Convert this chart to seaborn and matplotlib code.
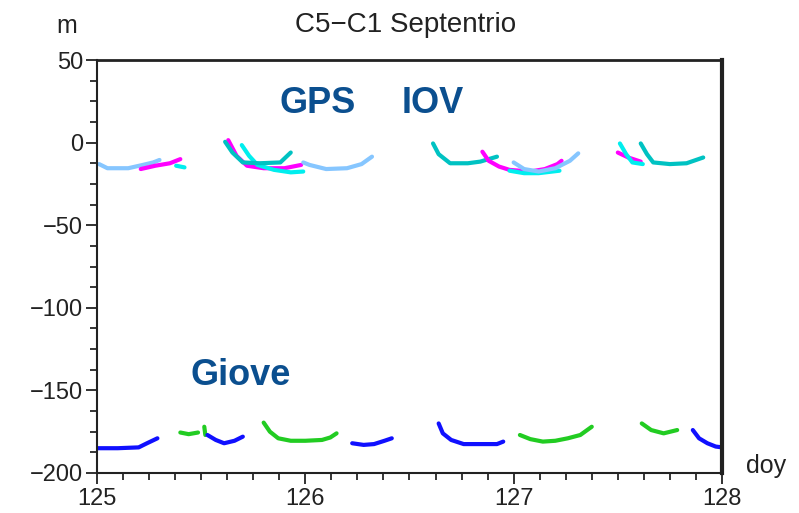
import matplotlib
matplotlib.use("Agg")
import matplotlib.pyplot as plt
import seaborn as sns
from matplotlib.ticker import MultipleLocator

# GPS / IOV arcs (doy, metres)
lb1_x = [125.01, 125.05, 125.15, 125.22, 125.27, 125.30]
lb1_y = [-13, -15.5, -15.5, -13.5, -12, -10.5]
mg1_x = [125.21, 125.28, 125.35, 125.40]
mg1_y = [-16, -14, -12.5, -10]
cy1_x = [125.38, 125.42]
cy1_y = [-14, -15]

tl2_x = [125.615, 125.65, 125.70, 125.78, 125.88, 125.93]
tl2_y = [0.5, -6, -12, -12.5, -12, -6]
mg2_x = [125.63, 125.67, 125.72, 125.80, 125.90, 125.98]
mg2_y = [1.5, -8, -14, -15.5, -15.5, -13.5]
cy2_x = [125.695, 125.73, 125.77, 125.85, 125.93, 125.99]
cy2_y = [-1.5, -8, -13.5, -16.5, -18, -17.5]
lb2_x = [125.99, 126.02, 126.10, 126.20, 126.27, 126.32]
lb2_y = [-12, -13.5, -16, -15.5, -13, -8.5]

tl3_x = [126.613, 126.64, 126.695, 126.78, 126.84, 126.92]
tl3_y = [-0.5, -7, -12.5, -12.5, -11.5, -8.5]
mg3_x = [126.85, 126.88, 126.93, 126.98, 127.08, 127.15, 127.21, 127.23]
mg3_y = [-5.5, -11, -14.5, -16.5, -17.5, -16, -13, -11]
cy3_x = [126.98, 127.05, 127.12, 127.22]
cy3_y = [-17, -18.5, -18.5, -17]
lb3_x = [127.00, 127.05, 127.12, 127.20, 127.27, 127.31]
lb3_y = [-12, -16, -17.5, -15.5, -11, -6.5]

mg4_x = [127.50, 127.55, 127.61]
mg4_y = [-6, -9, -11.5]
cy4_x = [127.51, 127.54, 127.57, 127.62]
cy4_y = [-0.5, -7, -12, -13]
tl4_x = [127.61, 127.64, 127.67, 127.75, 127.83, 127.91]
tl4_y = [-0.5, -7, -12, -13, -12.5, -9]

# Giove arcs
b1_x = [125.0, 125.10, 125.20, 125.24, 125.29]
b1_y = [-185, -185, -184.5, -182, -179]
g1_x = [125.40, 125.44, 125.485]
g1_y = [-175.5, -176.5, -175.5]
g1b_x = [125.515, 125.52]
g1b_y = [-172, -177]
b2_x = [125.53, 125.57, 125.61, 125.66, 125.70]
b2_y = [-177, -180, -182, -180.5, -178]
g2_x = [125.80, 125.83, 125.87, 125.93, 126.00, 126.08, 126.12, 126.15]
g2_y = [-169.5, -175, -179, -180.5, -180.5, -180, -178.5, -176]
b3_x = [126.225, 126.28, 126.33, 126.38, 126.415]
b3_y = [-182, -183, -182.5, -180.5, -179]
b4_x = [126.64, 126.66, 126.70, 126.76, 126.85, 126.92, 126.95]
b4_y = [-170, -176, -180, -182.5, -182.5, -182.5, -181]
g3_x = [127.03, 127.08, 127.14, 127.20, 127.26, 127.32, 127.375]
g3_y = [-177, -179.5, -181, -180.5, -179, -177, -172]
g4_x = [127.615, 127.66, 127.72, 127.785]
g4_y = [-170, -174, -176, -174]
b5_x = [127.86, 127.89, 127.93, 127.97, 128.0]
b5_y = [-174, -179, -182, -184, -184.5]

LB, MG, CY, TL = "#86c6ff", "#ff00ff", "#00eeee", "#00c2c2"
BL, GR = "#1010ff", "#22cc22"

arcs = [
    (lb1_x, lb1_y, LB), (mg1_x, mg1_y, MG), (cy1_x, cy1_y, CY),
    (mg2_x, mg2_y, MG), (cy2_x, cy2_y, CY), (tl2_x, tl2_y, TL), (lb2_x, lb2_y, LB),
    (tl3_x, tl3_y, TL), (mg3_x, mg3_y, MG), (cy3_x, cy3_y, CY), (lb3_x, lb3_y, LB),
    (mg4_x, mg4_y, MG), (cy4_x, cy4_y, CY), (tl4_x, tl4_y, TL),
    (b1_x, b1_y, BL), (g1_x, g1_y, GR), (g1b_x, g1b_y, GR), (b2_x, b2_y, BL),
    (g2_x, g2_y, GR), (b3_x, b3_y, BL), (b4_x, b4_y, BL), (g3_x, g3_y, GR),
    (g4_x, g4_y, GR), (b5_x, b5_y, BL),
]

sns.set_style("ticks")
plt.rcParams["font.family"] = ["Liberation Sans", "DejaVu Sans"]

fig = plt.figure(figsize=(7.99, 5.13), dpi=100)
ax = fig.add_axes([0.1214, 0.078, 0.7822, 0.805])

for xs, ys, c in arcs:
    sns.lineplot(x=xs, y=ys, color=c, lw=3, sort=False, estimator=None, ax=ax)

ax.set_xlim(125, 128)
ax.set_ylim(-200, 50)
ax.xaxis.set_major_locator(MultipleLocator(1))
ax.xaxis.set_minor_locator(MultipleLocator(0.125))
ax.yaxis.set_major_locator(MultipleLocator(50))
ax.yaxis.set_minor_locator(MultipleLocator(12.5))
ax.tick_params(which="major", length=8, width=1.3, labelsize=17, colors="#222222")
ax.tick_params(which="minor", length=5, width=1.3)
ax.tick_params(axis="x", pad=3)
ax.tick_params(axis="y", pad=2)

for side, lw in [("left", 1.5), ("bottom", 1.5), ("top", 2), ("right", 3)]:
    ax.spines[side].set_linewidth(lw)
    ax.spines[side].set_color("#222222")

fig.text(0.507, 0.951, "C5\u2212C1 Septentrio", ha="center", va="center", fontsize=20, color="#222222")
fig.text(0.083, 0.949, "m", ha="center", va="center", fontsize=18, color="#222222")
fig.text(0.959, 0.091, "doy", ha="center", va="center", fontsize=18, color="#222222")

txt_c = "#0b4f8f"
bold = dict(fontsize=26, fontweight="bold", color=txt_c, ha="center", va="center")
ax.text(126.06, 23.4, "GPS", **bold)
ax.text(126.61, 23.4, "IOV", **bold)
ax.text(125.69, -141, "Giove", **bold)

fig.savefig("out.png", dpi=100)
